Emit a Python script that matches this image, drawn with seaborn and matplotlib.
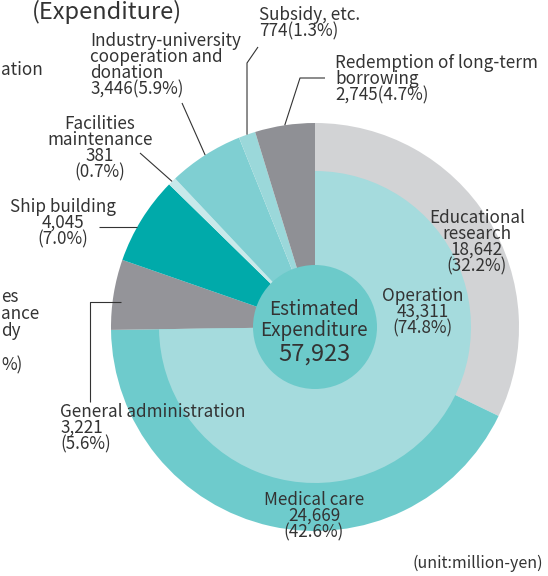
import matplotlib
matplotlib.use("Agg")
import numpy as np
import matplotlib.pyplot as plt
import seaborn as sns

# figure size in pixels; label positions below are given in pixel coords (y from top)
W, H = 548, 576

categories = [
    "Educational\nresearch",
    "Medical care",
    "General administration",
    "Ship building",
    "Facilities\nmaintenance",
    "Industry-university\ncooperation and\ndonation",
    "Subsidy, etc.",
    "Redemption of long-term\nborrowing",
]
amounts = [18642, 24669, 3221, 4045, 381, 3446, 774, 2745]
shares = [32.2, 42.6, 5.6, 7.0, 0.7, 5.9, 1.3, 4.7]
slice_colors = ["#d2d3d5", "#6ecbcc", "#949499", "#00aaaa",
                "#c8e9ea", "#7fcfd2", "#9bd8da", "#8f9095"]

operation_label = "Operation"
operation_amount = 43311
operation_share = 74.8
total_amount = 57923

TEXT = "#333333"


def px(x, y):
    # pixel position (y from top) -> data coords
    return x, H - y


sns.set_theme(style="white")
plt.rcParams["font.family"] = ["Noto Sans CJK JP", "DejaVu Sans"]

fig = plt.figure(figsize=(W / 100, H / 100), dpi=100)
ax = fig.add_axes([0, 0, 1, 1])

cx, cy = px(315, 327)
R_OUT, R_OP, R_CENTER = 204, 156, 62

wedges, _ = ax.pie(amounts, colors=slice_colors, radius=R_OUT, center=(cx, cy),
                   startangle=90, counterclock=False,
                   wedgeprops=dict(linewidth=0))

# inner "Operation" part covers educational research + medical care
ax.pie([operation_amount, total_amount - operation_amount],
       colors=["#a5dbdd", "none"], radius=R_OP, center=(cx, cy),
       startangle=90, counterclock=False, wedgeprops=dict(linewidth=0))

ax.add_patch(plt.Circle((cx, cy), R_CENTER, color="#6ccaca", lw=0, zorder=3))


def mid_point(i, r=R_OUT):
    w = wedges[i]
    a = np.deg2rad((w.theta1 + w.theta2) / 2)
    return cx + r * np.cos(a), cy + r * np.sin(a)


def edge_x(y_pix, r=R_OUT):
    _, y = px(0, y_pix)
    return cx - np.sqrt(r ** 2 - (y - cy) ** 2)


def leader(points):
    xs, ys = zip(*points)
    ax.plot(xs, ys, color=TEXT, lw=0.8, solid_capstyle="butt", zorder=4)


FS = 12.3
LS = 0.875


def label(x, y, s, ha="center", size=FS, ls=LS):
    ax.text(*px(x, y), s, ha=ha, va="center", multialignment=ha,
            fontsize=size, color=TEXT, linespacing=ls, zorder=5)


def val(i):
    return f"{amounts[i]:,}"


def pct(i):
    return f"({shares[i]:.1f}%)"


# labels of the slices
label(477, 242, f"{categories[0]}\n{val(0)}\n{pct(0)}")
label(314, 516, f"{categories[1]}\n{val(1)}\n{pct(1)}")
label(60, 428, f"{categories[2]}\n{val(2)}\n{pct(2)}", ha="left")
label(63, 223, f"{categories[3]}\n{val(3)}\n{pct(3)}")
label(100, 148, f"{categories[4]}\n{val(4)}\n{pct(4)}")
label(90, 65, f"{categories[5]}\n{val(5)}{pct(5)}", ha="left")
label(259, 23, f"{categories[6]}\n{val(6)}{pct(6)}", ha="left")
label(335, 79, f"{categories[7]}\n{val(7)}{pct(7)}", ha="left")
label(423, 312, f"{operation_label}\n{operation_amount:,}\n({operation_share:.1f}%)")

# centre
label(314, 320, "Estimated\nExpenditure", size=13.6, ls=0.95)
label(314, 354, f"{total_amount:,}", size=17)

# leader lines
leader([mid_point(6), px(247, 63), px(258, 47)])
leader([mid_point(7), px(300, 78), px(325, 78)])
leader([mid_point(5), px(182, 103)])
leader([mid_point(4), px(140, 153)])
leader([px(99, 227), (edge_x(227), H - 227)])
leader([px(90, 402), px(90, 302), (edge_x(302, 196), H - 302)])

# title and the visible ends of the neighbouring chart's labels
ax.text(*px(107, 19), "(Expenditure)", ha="center", va="baseline",
        fontsize=17, color=TEXT)
ax.text(*px(1, 70), "ation", ha="left", va="center", fontsize=FS, color=TEXT)
ax.text(*px(1, 331), "es\nance\ndy\n\n%)", ha="left", va="center",
        fontsize=FS, color=TEXT, linespacing=0.93)

ax.text(*px(543, 563), "(unit:million-yen)", ha="right", va="center",
        fontsize=11.5, color=TEXT)

ax.set_xlim(0, W)
ax.set_ylim(0, H)
ax.set_aspect("equal")
ax.set_axis_off()

fig.savefig("out.png", dpi=100)
